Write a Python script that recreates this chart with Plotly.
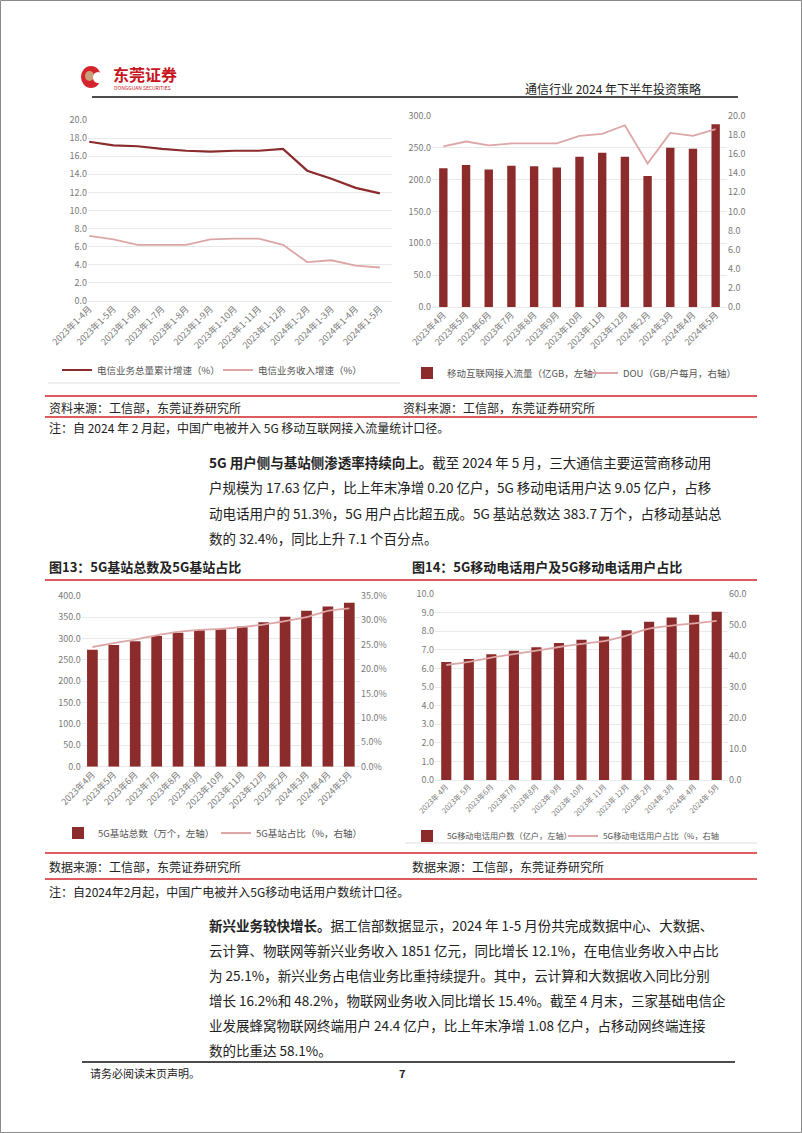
import plotly.graph_objects as go

W, H = 802, 1133

# ---------------- data ----------------
c1_labels = ["2023年1-4月", "2023年1-5月", "2023年1-6月", "2023年1-7月", "2023年1-8月",
             "2023年1-9月", "2023年1-10月", "2023年1-11月", "2023年1-12月",
             "2024年1-2月", "2024年1-3月", "2024年1-4月", "2024年1-5月"]
c1_total = [17.6, 17.2, 17.1, 16.8, 16.6, 16.5, 16.6, 16.6, 16.8, 14.4, 13.5, 12.5, 11.9]
c1_revenue = [7.2, 6.8, 6.2, 6.2, 6.2, 6.8, 6.9, 6.9, 6.2, 4.3, 4.5, 3.9, 3.7]

c2_labels = ["2023年4月", "2023年5月", "2023年6月", "2023年7月", "2023年8月", "2023年9月",
             "2023年10月", "2023年11月", "2023年12月", "2024年2月", "2024年3月",
             "2024年4月", "2024年5月"]
c2_traffic = [217.6, 222.8, 215.5, 221.7, 220.7, 218.6, 235.8, 242.0, 235.8, 205.6, 249.9, 248.3, 286.4]
c2_dou = [16.8, 17.3, 16.9, 17.1, 17.1, 17.1, 17.9, 18.1, 19.0, 15.0, 18.2, 17.9, 18.6]

c3_labels = ["2023年4月", "2023年5月", "2023年6月", "2023年7月", "2023年8月", "2023年9月",
             "2023年10月", "2023年11月", "2023年12月", "2023年2月", "2024年3月",
             "2024年4月", "2024年5月"]
c3_stations = [273.3, 284.4, 293.7, 305.5, 313.2, 318.9, 321.5, 328.2, 337.7, 350.9, 364.7, 374.8, 383.7]
c3_share = [24.5, 25.3, 26.0, 26.9, 27.6, 28.0, 28.2, 28.6, 29.1, 29.8, 30.6, 31.9, 32.4]

c4_labels = ["2023年 4月", "2023年 5月", "2023年6月", "2023年7月", "2023年8月", "2023年 9月",
             "2023年 10月", "2023年 11月", "2023年 12月", "2023年 2月", "2024年 3月",
             "2024年 4月", "2024年 5月"]
c4_users = [6.34, 6.51, 6.76, 6.95, 7.14, 7.37, 7.54, 7.71, 8.05, 8.51, 8.74, 8.89, 9.05]
c4_share = [37.1, 38.1, 39.5, 40.6, 41.7, 42.9, 43.9, 44.8, 46.6, 48.8, 49.8, 50.5, 51.3]

# ---------------- helpers ----------------
def PX(x):
    return x / W

def PY(y):
    return 1 - y / H

FONT = "Noto Sans CJK SC"
DARK = "#8c2b2b"
PINK = "#dda6a6"
GRID = "#e3e3e3"
TICK = dict(family=FONT, size=9, color="#7a7a7a")
RED = "#d0262b"

fig = go.Figure()

# Chart 1
fig.add_trace(go.Scatter(x=c1_labels, y=c1_total, mode="lines", name="电信业务总量累计增速（%）",
                         line=dict(color=DARK, width=2.2), xaxis="x", yaxis="y", legend="legend"))
fig.add_trace(go.Scatter(x=c1_labels, y=c1_revenue, mode="lines", name="电信业务收入增速（%）",
                         line=dict(color=PINK, width=1.8), xaxis="x", yaxis="y", legend="legend"))

# Chart 2
fig.add_trace(go.Bar(x=c2_labels, y=c2_traffic, name="移动互联网接入流量（亿GB，左轴）",
                     marker=dict(color=DARK, line=dict(width=0)), width=0.37,
                     xaxis="x2", yaxis="y2", legend="legend2"))
fig.add_trace(go.Scatter(x=c2_labels, y=c2_dou, mode="lines", name="DOU（GB/户每月，右轴）",
                         line=dict(color=PINK, width=1.8), xaxis="x2", yaxis="y3", legend="legend2"))

# Chart 3
fig.add_trace(go.Bar(x=c3_labels, y=c3_stations, name="5G基站总数（万个，左轴）",
                     marker=dict(color=DARK, line=dict(width=0)), width=0.5,
                     xaxis="x3", yaxis="y4", legend="legend3"))
fig.add_trace(go.Scatter(x=c3_labels, y=c3_share, mode="lines", name="5G基站占比（%，右轴）",
                         line=dict(color=PINK, width=1.8, shape="spline", smoothing=0.5),
                         xaxis="x3", yaxis="y5", legend="legend3"))

# Chart 4
fig.add_trace(go.Bar(x=c4_labels, y=c4_users, name="5G移动电话用户数（亿户，左轴）",
                     marker=dict(color=DARK, line=dict(width=0)), width=0.45,
                     xaxis="x4", yaxis="y6", legend="legend4"))
fig.add_trace(go.Scatter(x=c4_labels, y=c4_share, mode="lines", name="5G移动电话用户占比（%，右轴）",
                         line=dict(color=PINK, width=1.8, shape="spline", smoothing=0.6),
                         xaxis="x4", yaxis="y7", legend="legend4"))

def xax(domain, anchor, rng=None, size=9):
    d = dict(domain=domain, anchor=anchor, type="category", tickangle=-45,
             tickfont=dict(family=FONT, size=size, color="#7a7a7a"),
             showgrid=False, showline=False, zeroline=False, ticks="", fixedrange=True,
             automargin=False)
    if rng is not None:
        d["range"] = rng
    return d

def yax(domain, anchor, rng, dtick, grid=True, side="left", overlay=None, suffix=""):
    d = dict(domain=domain, anchor=anchor, range=rng, dtick=dtick, tick0=0,
             tickformat=".1f", ticksuffix=suffix, tickfont=TICK, side=side,
             showgrid=grid, gridcolor=GRID, gridwidth=0.8,
             zeroline=grid, zerolinecolor=GRID, zerolinewidth=0.8,
             showline=False, ticks="", fixedrange=True, automargin=False)
    if overlay:
        d["overlaying"] = overlay
    return d

c1x = [PX(88), PX(392)]
c1y = [PY(301), PY(120)]
c2x = [PX(432), PX(727)]
c2y = [PY(307), PY(115.7)]
c3x = [PX(81.7), PX(360)]
c3y = [PY(766.7), PY(595.7)]
c4x = [PX(435), PX(728)]
c4y = [PY(780), PY(594)]

legend_common = dict(orientation="h", xanchor="left", yanchor="middle",
                     bgcolor="rgba(0,0,0,0)", itemwidth=30, tracegroupgap=0,
                     entrywidthmode="pixels")

def lfont(size):
    return dict(family=FONT, size=size, color="#555555")

fig.update_layout(
    width=W, height=H, autosize=False,
    margin=dict(l=0, r=0, t=0, b=0, pad=0, autoexpand=False),
    paper_bgcolor="white", plot_bgcolor="white",
    font=dict(family=FONT, color="#222222"),
    showlegend=True,
    xaxis=xax(c1x, "y", rng=[-0.05, 12.5]),
    yaxis=yax(c1y, "x", [0, 20], 2),
    xaxis2=xax(c2x, "y2", rng=[-0.5, 12.5]),
    yaxis2=yax(c2y, "x2", [0, 300], 50),
    yaxis3=yax(c2y, "x2", [0, 20], 2, grid=False, side="right", overlay="y2"),
    xaxis3=xax(c3x, "y4", rng=[-0.5, 12.5]),
    yaxis4=yax(c3y, "x3", [0, 400], 50),
    yaxis5=yax(c3y, "x3", [0, 35], 5, grid=False, side="right", overlay="y4", suffix="%"),
    xaxis4=xax(c4x, "y6", rng=[-0.5, 12.5], size=7.5),
    yaxis6=yax(c4y, "x4", [0, 10], 1),
    yaxis7=yax(c4y, "x4", [0, 60], 10, grid=False, side="right", overlay="y6"),
    legend=dict(legend_common, x=PX(57), y=PY(370), entrywidth=116, font=lfont(9.5)),
    legend2=dict(legend_common, x=PX(407), y=PY(373), entrywidth=131, font=lfont(9.5)),
    legend3=dict(legend_common, x=PX(58), y=PY(833), entrywidth=113, font=lfont(9.5)),
    legend4=dict(legend_common, x=PX(407), y=PY(836), entrywidth=111, font=lfont(8.2)),
)

shapes = []
annotations = []

def hline(y, x0, x1, color, width):
    shapes.append(dict(type="line", xref="paper", yref="paper", x0=PX(x0), x1=PX(x1),
                       y0=PY(y), y1=PY(y), line=dict(color=color, width=width)))

def text(x, y, s, size=12, color="#222222", bold=False, anchor="left"):
    if bold:
        s = "<b>" + s + "</b>"
    annotations.append(dict(xref="paper", yref="paper", x=PX(x), y=PY(y), text=s,
                            showarrow=False, xanchor=anchor, yanchor="middle",
                            font=dict(family=FONT, size=size, color=color)))

# page border
shapes.append(dict(type="rect", xref="paper", yref="paper", x0=PX(0.5), x1=PX(801.5),
                   y0=PY(1132.5), y1=PY(0.5), line=dict(color="#8a8a8a", width=1)))

# logo
shapes.append(dict(type="circle", xref="paper", yref="paper", x0=PX(81), x1=PX(101),
                   y0=PY(88), y1=PY(66), fillcolor="#d4252c", line=dict(width=0)))
shapes.append(dict(type="circle", xref="paper", yref="paper", x0=PX(85), x1=PX(94),
                   y0=PY(81), y1=PY(71), fillcolor="#c9a07a", line=dict(width=0)))
shapes.append(dict(type="circle", xref="paper", yref="paper", x0=PX(93), x1=PX(103),
                   y0=PY(83), y1=PY(72), fillcolor="white", line=dict(width=0)))
text(111, 74, "东莞证券", size=16, color="#c8161e", bold=True)
text(112, 87.5, "DONGGUAN SECURITIES", size=5, color="#c8161e")

# header
hline(97, 92, 738, "#111111", 1.5)
text(523, 89, "通信行业 2024 年下半年投资策略", size=12, color="#222222")

# under top charts
hline(383, 48, 400, "#dddddd", 1)
hline(396, 45, 757, RED, 1.5)
text(47, 407.5, "资料来源：工信部，东莞证券研究所", size=12)
text(401, 407.5, "资料来源：工信部，东莞证券研究所", size=12)
hline(417, 45, 757, RED, 1.5)
text(47, 428, "注：自 2024 年 2 月起，中国广电被并入 5G 移动互联网接入流量统计口径。", size=12)

# paragraph 1
p1 = [
    "<b>5G 用户侧与基站侧渗透率持续向上。</b>截至 2024 年 5 月，三大通信主要运营商移动用",
    "户规模为 17.63 亿户，比上年末净增 0.20 亿户，5G 移动电话用户达 9.05 亿户，占移",
    "动电话用户的 51.3%，5G 用户占比超五成。5G 基站总数达 383.7 万个，占移动基站总",
    "数的 32.4%，同比上升 7.1 个百分点。",
]
for i, s in enumerate(p1):
    text(207, 462 + i * 25.3, s, size=13.5)

# figure titles
text(47, 566, "图13：5G基站总数及5G基站占比", size=13, bold=True)
text(410, 566, "图14：5G移动电话用户及5G移动电话用户占比", size=13, bold=True)
hline(580, 45, 757, RED, 1.5)

# under bottom charts
hline(843, 405, 757, "#dddddd", 1)
hline(853, 45, 757, RED, 1.5)
text(47, 866.5, "数据来源：工信部，东莞证券研究所", size=12)
text(410, 866.5, "数据来源：工信部，东莞证券研究所", size=12)
hline(879, 45, 757, RED, 1.5)
text(47, 891, "注：自2024年2月起，中国广电被并入5G移动电话用户数统计口径。", size=12)

# paragraph 2
p2 = [
    "<b>新兴业务较快增长。</b>据工信部数据显示，2024 年 1-5 月份共完成数据中心、大数据、",
    "云计算、物联网等新兴业务收入 1851 亿元，同比增长 12.1%，在电信业务收入中占比",
    "为 25.1%，新兴业务占电信业务比重持续提升。其中，云计算和大数据收入同比分别",
    "增长 16.2%和 48.2%，物联网业务收入同比增长 15.4%。截至 4 月末，三家基础电信企",
    "业发展蜂窝物联网终端用户 24.4 亿户，比上年末净增 1.08 亿户，占移动网终端连接",
    "数的比重达 58.1%。",
]
for i, s in enumerate(p2):
    text(207, 925 + i * 25, s, size=13.5)

# footer
hline(1062, 82, 735, "#111111", 1.5)
text(88, 1073, "请务必阅读末页声明。", size=11)
text(403, 1073, "7", size=11, bold=True, anchor="center")

fig.update_layout(shapes=shapes, annotations=annotations)

fig.write_html(
    "out.html",
    config={"displayModeBar": False, "staticPlot": True},
    post_script="document.body.style.margin='0';document.body.style.padding='0';"
                "document.documentElement.style.overflow='hidden';",
)
